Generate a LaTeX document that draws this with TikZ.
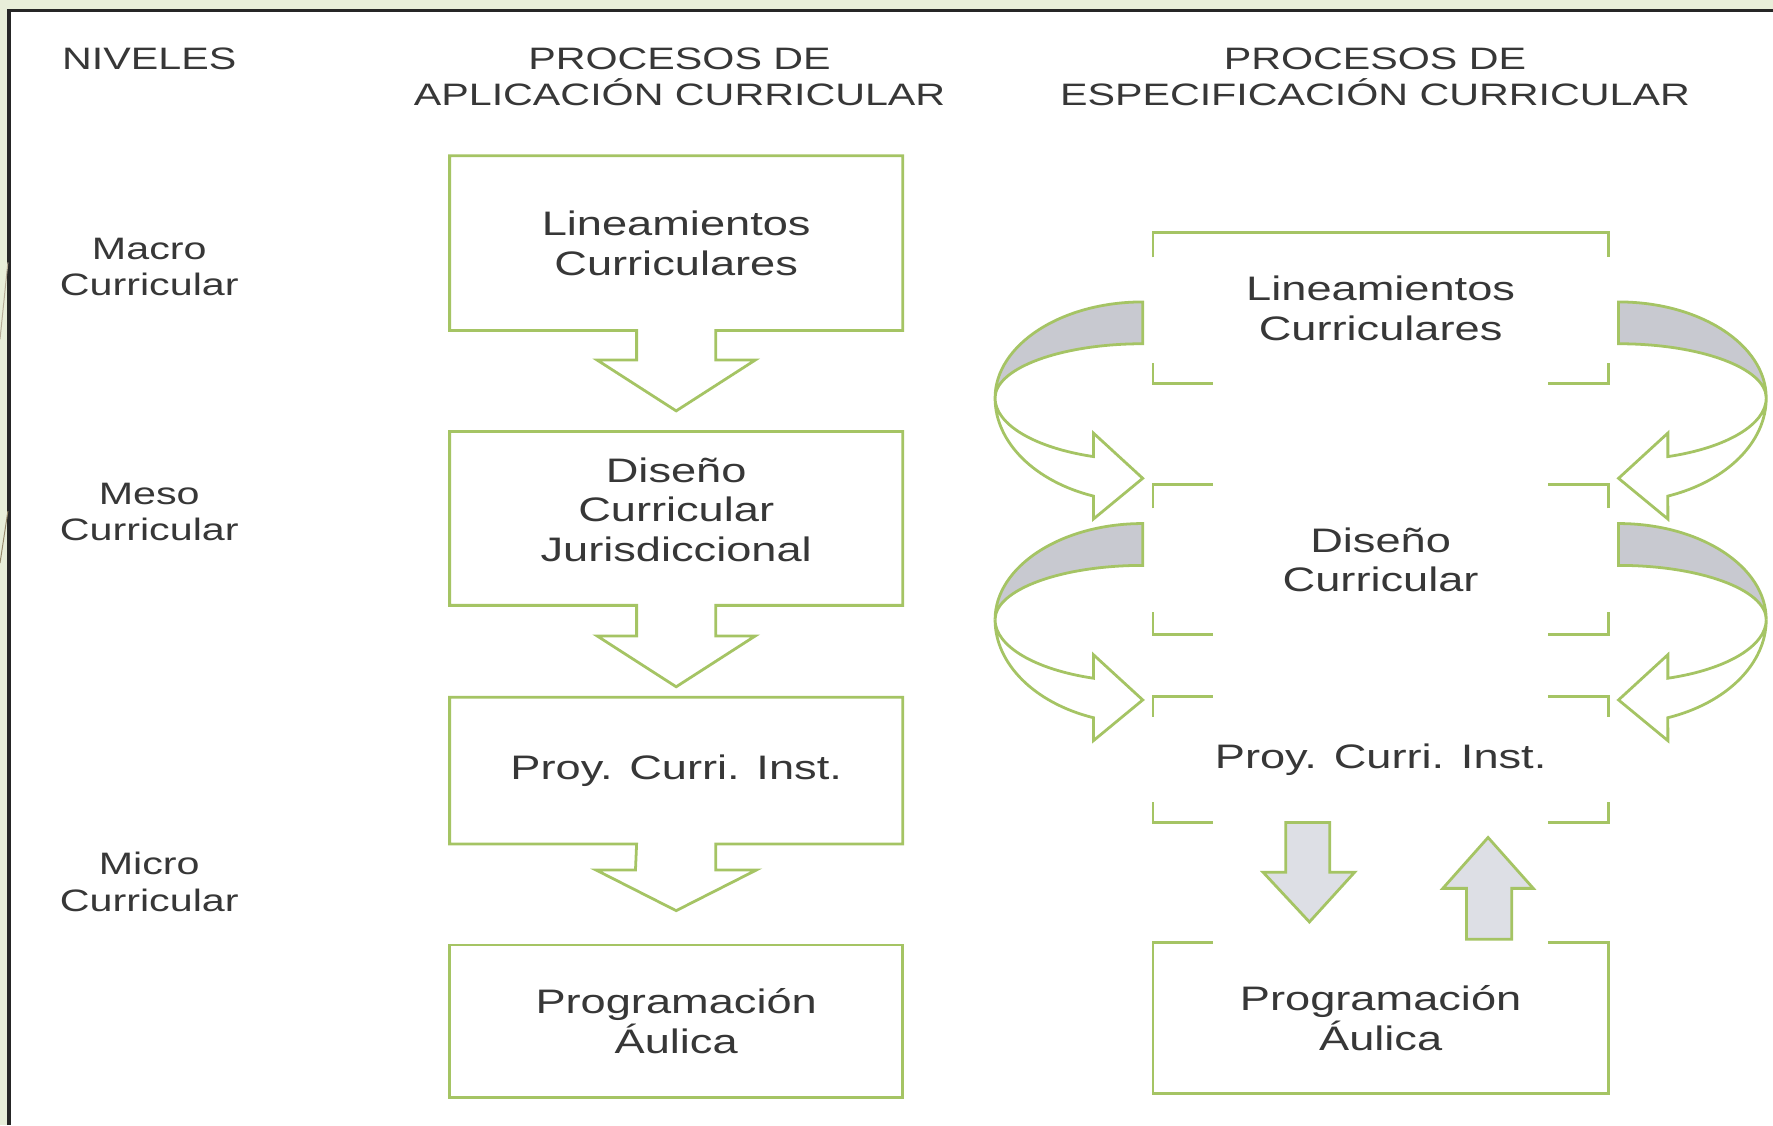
\documentclass[tikz,border=0pt]{standalone}
\usepackage{fontspec}
\setmainfont{Liberation Sans}[FakeStretch=1.33]
\usetikzlibrary{calc, positioning}

\definecolor{leaf}{RGB}{165,196,100}
\definecolor{band}{RGB}{200,201,208}
\definecolor{pale}{RGB}{221,223,229}
\definecolor{slide}{RGB}{232,238,217}
\definecolor{ink}{RGB}{55,55,55}
\definecolor{deco}{RGB}{150,138,108}

\begin{document}
\begin{tikzpicture}[x=0.2mm, y=-0.2mm,
        every node/.style = {text=ink, align=center, inner sep=0pt},
        head/.style = {font=\fontsize{15.6}{18.2}\selectfont},
        boxtext/.style = {font=\fontsize{17.1}{19.9}\selectfont, minimum width=80mm},
        frame/.style = {draw=leaf, line width=1.4pt},
        bendarrow/.pic = {
            % front of the band, with the head
            \draw[frame, fill=white] (-130.6,0) arc[start angle=180, end angle=109.5, x radius=130.6, y radius=92]
                -- (-43.6,107) -- (0,71) -- (-43.6,31) -- (-43.6,51.8)
                arc[start angle=109.5, end angle=180, x radius=130.6, y radius=55] -- cycle;
            % back of the band
            \draw[frame, fill=band] (0,-85) arc[start angle=270, end angle=180, x radius=130.6, y radius=85]
                arc[start angle=180, end angle=270, x radius=130.6, y radius=48] -- cycle;
        }]
        \useasboundingbox (0,0) rectangle (1568,995);
        \fill[slide] (0,0) rectangle (1568,995);
        \fill[white] (8,9) rectangle (1568,995);
        \draw[black!85, line width=0.55mm] (8,995) -- (8,9) -- (1568,9);
        \draw[deco!70, line width=0.5pt] (0,300) -- (7,232);
        \draw[deco, line width=0.5pt] (0,498) -- (7,452);

        % headers
        \node[head] (niveles) at (132, 52) {NIVELES};
        \node[head] (hdrapl) at (601, 68) {PROCESOS DE\\APLICACIÓN CURRICULAR};
        \node[head] (hdresp) at (1216, 68) {PROCESOS DE\\ESPECIFICACIÓN CURRICULAR};

        % levels
        \node[head] (macro) at (132, 236) {Macro\\Curricular};
        \node[head] (meso) at (132, 453) {Meso\\Curricular};
        \node[head] (micro) at (132, 780) {Micro\\Curricular};

        % aplicacion column
        \node[boxtext, minimum height=30.8mm] (apl1) at (598, 215) {Lineamientos\\Curriculares};
        \node[boxtext, minimum height=30.6mm, text depth=3.2mm] (apl2) at (598, 458.5) {Diseño\\Curricular\\Jurisdiccional};
        \node[boxtext, minimum height=25.8mm] (apl3) at (598, 681.5) {Proy. Curri. Inst.};
        \node[boxtext, minimum height=26.8mm] (apl4) at (598, 903) {Programación\\Áulica};

        \draw[frame] ($(apl1.south)+(-35,0)$) -- (apl1.south west) -- (apl1.north west) -- (apl1.north east)
            -- (apl1.south east) -- ($(apl1.south)+(35,0)$) -- ++(0,26) -- ++(35,0)
            -- ($(apl1.south)+(0,71)$) -- ++(-70,-45) -- ++(35,0) -- cycle;
        \draw[frame] ($(apl2.south)+(-35,0)$) -- (apl2.south west) -- (apl2.north west) -- (apl2.north east)
            -- (apl2.south east) -- ($(apl2.south)+(35,0)$) -- ++(0,27) -- ++(35,0)
            -- ($(apl2.south)+(0,72)$) -- ++(-70,-45) -- ++(35,0) -- cycle;
        \draw[frame] ($(apl3.south)+(-35,0)$) -- (apl3.south west) -- (apl3.north west) -- (apl3.north east)
            -- (apl3.south east) -- ($(apl3.south)+(35,0)$) -- ++(0,23) -- ++(36,0)
            -- ($(apl3.south)+(0,59)$) -- ++(-71,-36) -- ++(35,0) -- cycle;
        \draw[frame] (apl4.north west) rectangle (apl4.south east);

        % especificacion column
        \node[boxtext, minimum width=80.4mm, minimum height=26.6mm] (esp1) at (1221, 272.5) {Lineamientos\\Curriculares};
        \node[boxtext, minimum width=80.4mm, minimum height=26.4mm] (esp2) at (1221, 495) {Diseño\\Curricular};
        \node[boxtext, minimum width=80.4mm, minimum height=22.2mm] (esp3) at (1221, 671.5) {Proy. Curri. Inst.};
        \node[boxtext, minimum width=80.4mm, minimum height=26.6mm] (esp4) at (1221, 900.5) {Programación\\Áulica};

        \draw[frame] ($(esp1.north west)+(0,22)$) -- (esp1.north west) -- (esp1.north east) -- ++(0,22)
            ($(esp1.south west)+(0,-18)$) -- (esp1.south west) -- ++(53,0)
            ($(esp1.south east)+(0,-18)$) -- (esp1.south east) -- ++(-53,0);
        \draw[frame] ($(esp2.north west)+(0,21)$) -- (esp2.north west) -- ++(53,0)
            ($(esp2.north east)+(0,21)$) -- (esp2.north east) -- ++(-53,0)
            ($(esp2.south west)+(0,-20)$) -- (esp2.south west) -- ++(53,0)
            ($(esp2.south east)+(0,-20)$) -- (esp2.south east) -- ++(-53,0);
        \draw[frame] ($(esp3.north west)+(0,18)$) -- (esp3.north west) -- ++(53,0)
            ($(esp3.north east)+(0,18)$) -- (esp3.north east) -- ++(-53,0)
            ($(esp3.south west)+(0,-18)$) -- (esp3.south west) -- ++(53,0)
            ($(esp3.south east)+(0,-18)$) -- (esp3.south east) -- ++(-53,0);
        \draw[frame] ($(esp4.north west)+(53,0)$) -- (esp4.north west) -- (esp4.south west)
            -- (esp4.south east) -- (esp4.north east) -- ++(-53,0);

        % curved arrows between the levels
        \pic at (1010.6, 352) {bendarrow};
        \pic at (1010.6, 548) {bendarrow};
        \pic[xscale=-1] at (1431.4, 352) {bendarrow};
        \pic[xscale=-1] at (1431.4, 548) {bendarrow};

        % down and up arrows
        \draw[frame, fill=pale] ($(esp3.south)+(-84,0)$) -- ++(39,0) -- ++(0,44) -- ++(22,0)
            -- ++(-40,44) -- ++(-41,-44) -- ++(20,0) -- cycle;
        \draw[frame, fill=pale] ($(esp4.north)+(76,-3)$) -- ++(40,0) -- ++(0,-45) -- ++(19,0)
            -- ++(-40,-45) -- ++(-40,45) -- ++(21,0) -- cycle;
\end{tikzpicture}
\end{document}
